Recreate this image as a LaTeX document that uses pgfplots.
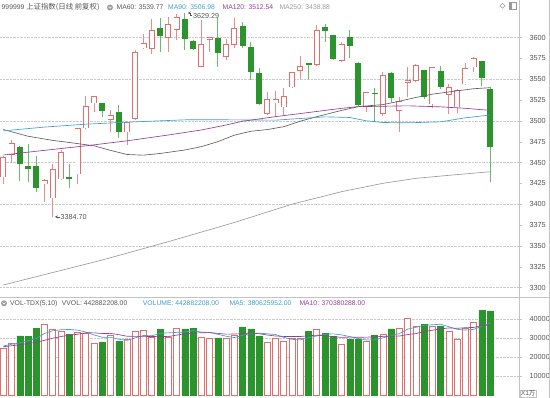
\documentclass[border=0pt]{standalone}
\usepackage{pgfplots}
\pgfplotsset{compat=1.18}
\usepackage{pgfplotstable}
\usepackage{fontspec}
\setmainfont{Liberation Sans}
\newfontfamily\cjk{Noto Sans CJK SC}
\definecolor{upred}{RGB}{226,110,110}
\definecolor{upwick}{RGB}{232,140,140}
\definecolor{dngreen}{RGB}{44,148,44}
\definecolor{dnwick}{RGB}{110,184,110}
\definecolor{ma60c}{RGB}{95,95,95}
\definecolor{ma90c}{RGB}{60,160,200}
\definecolor{ma120c}{RGB}{150,60,150}
\definecolor{ma250c}{RGB}{155,155,155}
\definecolor{txt}{RGB}{85,85,85}
\definecolor{axisgray}{RGB}{195,195,195}

\pgfplotstableread{
i o h l c v
0 3432 3458 3423.6 3456.8 24570
1 3458.8 3476.8 3448.8 3472.8 27540
5 3423.6 3430 3402.8 3428.4 37540
6 3406.8 3447.6 3384.70 3442 34910
7 3429.6 3465 3429 3462.8 33680
9 3435.6 3491 3423.6 3490.8 33330
10 3490.8 3530 3490 3518 32460
11 3520.8 3530 3510.8 3529.2 27190
13 3500.8 3512.8 3486.8 3506.8 31580
15 3486 3498.5 3470.8 3498 29300
16 3502 3584.8 3501 3582 33860
17 3586.8 3603.6 3586 3593.6 34210
18 3586 3622 3580 3608.8 30700
20 3599.6 3625 3582 3615.6 30700
21 3608.8 3628 3596.8 3624.8 35090
24 3564.8 3620.8 3564 3592 30350
25 3596.8 3601 3582.8 3600 29820
27 3576.8 3598 3572.8 3592 29820
28 3590.8 3622.8 3587.6 3611.6 31580
32 3508 3534 3507.5 3526 27900
33 3520.8 3535.6 3504.8 3525.6 29820
34 3516 3539.6 3506 3529.6 28240
35 3540 3559 3539 3558 29820
36 3560 3577.6 3550 3566 29820
38 3566.8 3614.8 3566 3608.8 34560
41 3572 3594.8 3570.8 3591.6 27020
44 3516.8 3535 3510.8 3534.8 28590
46 3508 3558 3505.6 3554.8 32110
48 3512 3528.8 3486 3523.6 35090
49 3545.6 3564.8 3528.8 3548.4 40350
50 3548 3567.6 3546.8 3566.8 36310
52 3519.6 3565 3514.8 3564.8 36490
54 3530.8 3544 3507.6 3540 33680
55 3516 3538 3509.6 3536.8 29470
56 3543.6 3568.8 3542.8 3562.8 35440
57 3564 3576 3558 3574.8 38250
}\up

\pgfplotstableread{
i o h l c v
2 3468.8 3470 3428 3448 31230
3 3446 3471.6 3426.8 3442 31050
4 3446 3458 3414.8 3419.6 35090
8 3432.4 3447.6 3418.8 3430 31930
12 3520.8 3521 3504.8 3512 27720
14 3510.8 3518.8 3479.6 3486.8 28420
19 3610.8 3622.8 3582.8 3602 34740
22 3622 3629.29 3584.8 3598 34910
23 3596 3597 3585 3585.6 35090
26 3599.6 3622.8 3564.8 3580.8 30180
29 3614 3618 3586.8 3590 35960
30 3588 3594 3548.8 3558 34910
31 3557.6 3562.8 3519 3519.6 31230
37 3568.8 3569.6 3550 3567.2 33680
39 3612.8 3615.6 3594.8 3607.6 32460
40 3602.8 3603 3572.8 3574 31050
42 3600.8 3608.8 3574.8 3589.6 29300
43 3569.6 3570 3518 3518.8 29300
45 3533.6 3539.6 3498.8 3531.6 31580
47 3557.6 3558.8 3522 3526.8 34910
51 3560.8 3561 3526 3528.8 37370
53 3559.6 3566 3538 3540.8 36490
58 3571.6 3572 3541.6 3550.8 44740
59 3537.6 3540.8 3426 3468 44390
}\down

\pgfplotstableread{
i m5 m10
0 25900 25500
1 26800 26000
2 27500 26600
3 28700 27200
4 29896 27800
5 32490 28900
6 33964 30000
7 34454 30900
8 34630 31600
9 34278 32087
10 33262 32876
11 31718 32841
12 30526 32490
13 30456 32543
14 29474 31876
15 28842 31052
16 30176 30947
17 31474 31000
18 31298 30877
19 32562 31018
20 32842 30842
21 33088 31632
22 33228 32351
23 34106 32702
24 33228 32895
25 33052 32947
26 32070 32579
27 31052 32140
28 30350 32228
29 31472 32350
30 32490 32771
31 32700 32385
32 32316 31684
33 31964 31157
34 30420 30946
35 29402 30946
36 29120 30910
37 30276 31296
38 31224 31594
39 32068 31244
40 32314 30858
41 31754 30437
42 30878 30577
43 29826 30525
44 29052 30560
45 29158 30736
46 30176 30965
47 31298 31088
48 32456 31141
49 34808 31930
50 35754 32456
51 36806 33491
52 37122 34210
53 37402 34929
54 36068 35438
55 34692 35227
56 34306 35558
57 34658 35692
58 36308 36657
59 38062 37038
}\volma

\begin{document}
\begin{tikzpicture}
\path[use as bounding box] (0pt,0pt) rectangle (550pt,398pt);

% ---------------- price panel ----------------
\begin{axis}[
  at={(0pt,101pt)}, anchor=south west,
  width=519pt, height=297pt, scale only axis,
  xmin=-0.4, xmax=62.5, ymin=3288.6, ymax=3645,
  axis x line=none, axis y line*=right,
  axis line style={axisgray},
  ytick={3300,3325,...,3600},
  tick style={axisgray}, major tick length=3pt, tick align=outside,
  yticklabel style={font=\fontsize{7.3}{8}\selectfont, text=txt, xshift=4pt,
     /pgf/number format/assume math mode=true, /pgf/number format/1000 sep={}},
  extra y ticks={3300,3350,...,3600}, extra y tick labels={},
  extra y tick style={grid=major, major tick length=0pt},
  major grid style={densely dotted, gray!40},
  clip=true,
]
% wicks
\addplot[draw=none, mark=none, error bars/.cd, y dir=plus, y explicit, error mark=none,
  error bar style={draw=upwick, line width=0.8pt}]
  table[x=i, y=l, y error plus expr=\thisrow{h}-\thisrow{l}] {\up};
\addplot[draw=none, mark=none, error bars/.cd, y dir=plus, y explicit, error mark=none,
  error bar style={draw=dnwick, line width=0.8pt}]
  table[x=i, y=l, y error plus expr=\thisrow{h}-\thisrow{l}] {\down};
% up bodies (hollow)
\addplot[draw=none, mark=none, error bars/.cd, y dir=plus, y explicit, error mark=none,
  error bar style={draw=upred, line width=6pt}]
  table[x=i, y=o, y error plus expr={max(\thisrow{c}-\thisrow{o},1.2)}] {\up};
\addplot[draw=none, mark=none, error bars/.cd, y dir=plus, y explicit, error mark=none,
  error bar style={draw=white, line width=4.3pt}]
  table[x=i, y expr=\thisrow{o}+1.0, y error plus expr={max(\thisrow{c}-\thisrow{o}-2.0,0)}] {\up};
% down bodies (filled)
\addplot[draw=none, mark=none, error bars/.cd, y dir=plus, y explicit, error mark=none,
  error bar style={draw=dngreen, line width=6pt}]
  table[x=i, y=c, y error plus expr={max(\thisrow{o}-\thisrow{c},1.2)}] {\down};

% moving averages
\addplot[ma250c, line width=0.65pt] coordinates {
(0,3303) (6,3318) (12,3333) (20,3355) (28,3378) (35,3400) (41,3415) (46,3425) (50,3431) (55,3435.5) (59,3438.88)};
\addplot[ma60c, line width=0.65pt] coordinates {
(0,3489.6) (3,3481.5) (6,3476.5) (8,3474) (11,3470) (13,3464.5) (15,3459.6) (17,3458.8) (19,3460.8) (22,3465) (24,3469) (26,3475) (28,3482.8) (30,3487.5) (32,3489.5) (34,3493) (36,3499.6) (38,3505) (41,3512.5) (43,3517) (46,3519.5) (48,3523.5) (50,3528) (52,3532) (55,3536) (57,3538.5) (59,3539.77)};
\addplot[ma90c, line width=0.65pt] coordinates {
(0,3488) (5,3492.5) (10,3496) (16,3498.8) (22,3501.2) (26,3501.3) (30,3501) (33,3500.8) (36,3502.8) (39,3504.8) (42,3504) (44,3500) (46,3498) (49,3497.6) (53,3498.8) (56,3503.6) (59,3506.98)};
\addplot[ma120c, line width=0.65pt] coordinates {
(0,3459) (4,3463.5) (10,3470) (15,3476) (20,3483) (24,3489) (27,3495) (29,3499.5) (33,3505) (37,3510) (41,3515) (43,3517) (49,3518) (53,3516.8) (56,3515) (59,3512.54)};

% extreme annotations
\draw[txt, line width=0.4pt, <-, >=stealth] (axis cs:22.35,3629.29) -- ++(2pt,0pt) -- ++(0pt,-2.6pt) -- ++(2.5pt,0pt)
  node[right, inner sep=0.6pt, font=\fontsize{7.2}{8}\selectfont, text=txt] {3629.29};
\draw[txt, line width=0.4pt, <-, >=stealth] (axis cs:6.25,3384.70) -- ++(5pt,0pt)
  node[right, inner sep=0.6pt, font=\fontsize{7.2}{8}\selectfont, text=txt] {3384.70};
\end{axis}

% ---------------- volume panel ----------------
\begin{axis}[
  at={(0pt,0pt)}, anchor=south west,
  width=519pt, height=101pt, scale only axis,
  xmin=-0.4, xmax=62.5, ymin=-1585, ymax=51783,
  axis x line=none, axis y line*=right,
  axis line style={axisgray},
  ytick={10000,20000,30000,40000}, scaled y ticks=false,
  tick style={axisgray}, major tick length=3pt, tick align=outside,
  yticklabel style={font=\fontsize{7.3}{8}\selectfont, text=txt, xshift=4pt,
     /pgf/number format/assume math mode=true, /pgf/number format/1000 sep={}},
  ymajorgrids, major grid style={densely dotted, gray!40},
]
\addplot[ybar, bar width=6pt, bar shift=0pt, fill=white, draw=upred, line width=0.7pt]
  table[x=i, y=v] {\up};
\addplot[ybar, bar width=6pt, bar shift=0pt, fill=dngreen, draw=dngreen, line width=0.5pt]
  table[x=i, y=v] {\down};
\addplot[ma90c, line width=0.65pt] table[x=i, y=m5] {\volma};
\addplot[ma120c, line width=0.65pt] table[x=i, y=m10] {\volma};
\end{axis}

% frame lines
\draw[axisgray, line width=0.6pt] (0pt,101pt) -- (549pt,101pt);
\draw[axisgray, line width=0.6pt] (549.5pt,0pt) -- (549.5pt,398pt);

% headers
\node[anchor=west, inner sep=0pt, font=\fontsize{6.8}{8}\selectfont, text=txt] at (1.5pt,390.5pt)
  {999999 {\cjk\fontsize{7.4}{8}\selectfont 上证指数(日线 前复权)}};
\fill[gray!75] (110pt,390.5pt) circle (3pt);
\draw[white, line width=0.6pt] (108.6pt,391.2pt) -- (110pt,389.8pt) -- (111.4pt,391.2pt);
\node[anchor=west, inner sep=0pt, font=\fontsize{6.8}{8}\selectfont, text=txt] at (116.5pt,390.5pt) {MA60: 3539.77};
\node[anchor=west, inner sep=0pt, font=\fontsize{6.8}{8}\selectfont, text=ma90c] at (168pt,390.5pt) {MA90: 3506.98};
\node[anchor=west, inner sep=0pt, font=\fontsize{6.8}{8}\selectfont, text=ma120c] at (222.5pt,390.5pt) {MA120: 3512.54};
\node[anchor=west, inner sep=0pt, font=\fontsize{6.8}{8}\selectfont, text=ma250c] at (279.3pt,390.5pt) {MA250: 3438.88};

\draw[gray!80, line width=0.5pt] (500pt,392.3pt) -- (502.5pt,394.8pt) -- (505pt,392.3pt) -- (502.5pt,389.8pt) -- cycle;
\draw[gray!80, line width=0.5pt] (509.5pt,389pt) rectangle (516.5pt,395.3pt);
\fill[gray!80] (509.5pt,389pt) rectangle (512.3pt,395.3pt);

\fill[gray!75] (4pt,94.7pt) circle (3pt);
\draw[white, line width=0.6pt] (2.6pt,95.4pt) -- (4pt,94pt) -- (5.4pt,95.4pt);
\node[anchor=west, inner sep=0pt, font=\fontsize{6.8}{8}\selectfont, text=txt] at (10pt,94.7pt) {VOL-TDX(5,10)};
\node[anchor=west, inner sep=0pt, font=\fontsize{6.8}{8}\selectfont, text=txt] at (61.7pt,94.7pt) {VVOL: 442882208.00};
\node[anchor=west, inner sep=0pt, font=\fontsize{6.8}{8}\selectfont, text=ma90c] at (142.7pt,94.7pt) {VOLUME: 442882208.00};
\node[anchor=west, inner sep=0pt, font=\fontsize{6.8}{8}\selectfont, text=ma90c] at (229.3pt,94.7pt) {MA5: 380625952.00};
\node[anchor=west, inner sep=0pt, font=\fontsize{6.8}{8}\selectfont, text=ma120c] at (299.3pt,94.7pt) {MA10: 370380288.00};

\node[anchor=south west, draw=axisgray, inner sep=0.8pt, font=\fontsize{6.5}{7}\selectfont, text=txt] at (520pt,0.5pt) {X1{\cjk 万}};
\end{tikzpicture}
\end{document}
